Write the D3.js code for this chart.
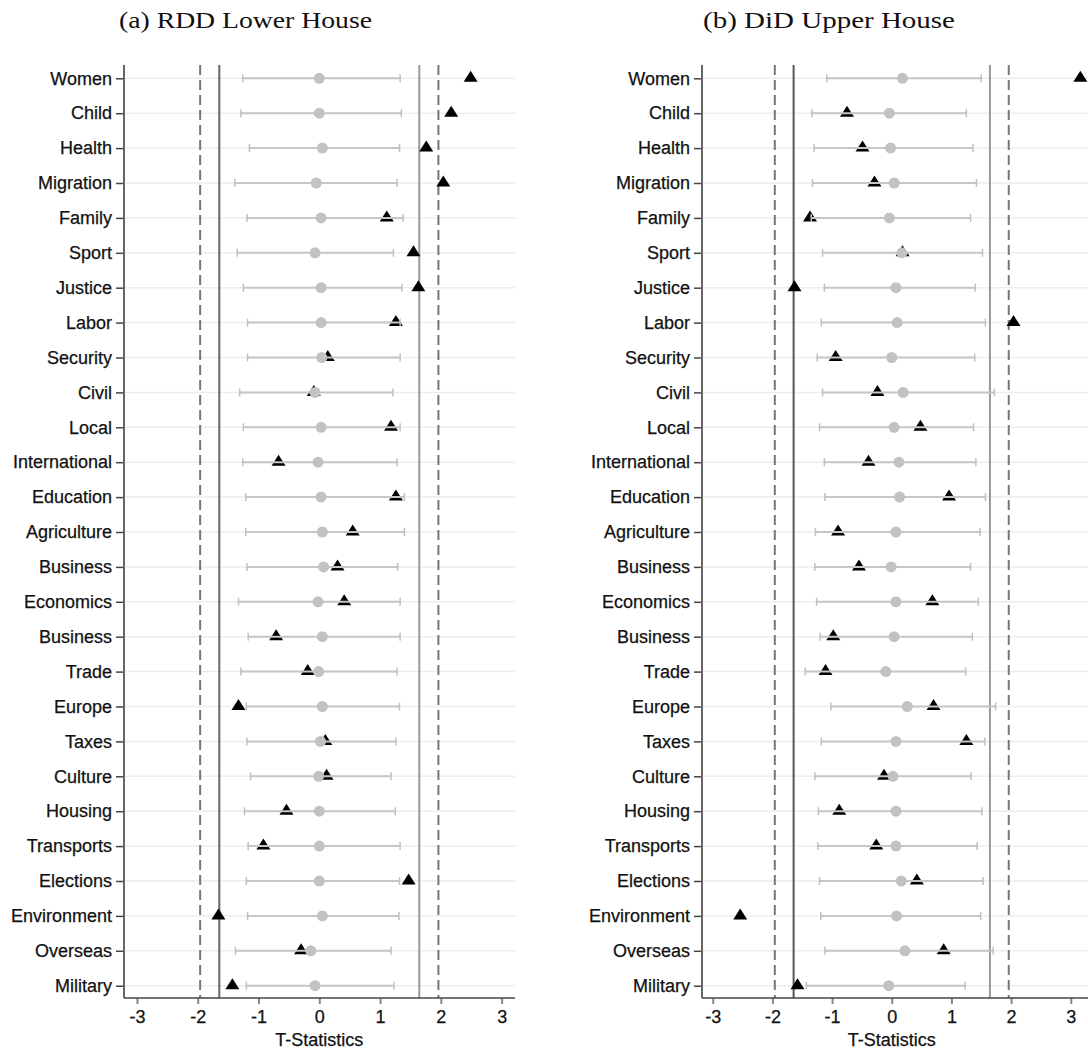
<!DOCTYPE html>
<html>
<head>
<meta charset="utf-8">
<script src="https://cdn.jsdelivr.net/npm/d3@7"></script>
<style>
  html, body { margin: 0; padding: 0; background: #fff; }
  svg { display: block; }
  text { font-family: "Liberation Sans", Arial, Helvetica, sans-serif; fill: #111; }
  .title { font-family: "Liberation Serif", "DejaVu Serif", serif; }
</style>
</head>
<body>
<svg id="chart" width="1088" height="1054"></svg>
<script>
// ---------- DATA ----------
const categories = ["Women","Child","Health","Migration","Family","Sport","Justice","Labor","Security","Civil","Local","International","Education","Agriculture","Business","Economics","Business","Trade","Europe","Taxes","Culture","Housing","Transports","Elections","Environment","Overseas","Military"];

const xTicks = [-3, -2, -1, 0, 1, 2, 3];
const refLinesDashed = [-1.96, 1.96];
const refLinesSolid = [-1.645, 1.645];

// (a) RDD Lower House
const rddCiLow   = [-1.26,-1.29,-1.15,-1.39,-1.19,-1.35,-1.25,-1.18,-1.18,-1.31,-1.25,-1.26,-1.21,-1.21,-1.19,-1.33,-1.17,-1.29,-1.20,-1.19,-1.13,-1.23,-1.17,-1.20,-1.18,-1.38,-1.20];
const rddCiHigh  = [1.33,1.35,1.32,1.28,1.38,1.22,1.36,1.33,1.33,1.21,1.33,1.28,1.40,1.40,1.29,1.33,1.33,1.28,1.32,1.26,1.18,1.25,1.33,1.32,1.31,1.18,1.23];
const rddPlacebo = [0.00,0.00,0.05,-0.05,0.03,-0.07,0.03,0.03,0.04,-0.07,0.03,-0.02,0.03,0.05,0.07,-0.02,0.05,-0.01,0.05,0.02,-0.01,0.00,0.00,0.00,0.05,-0.14,-0.07];
const rddEstimate= [2.49,2.17,1.76,2.04,1.11,1.55,1.63,1.26,0.14,-0.09,1.18,-0.67,1.26,0.55,0.30,0.41,-0.71,-0.19,-1.33,0.10,0.12,-0.54,-0.92,1.47,-1.66,-0.30,-1.43];

// (b) DiD Upper House
const didCiLow   = [-1.09,-1.34,-1.30,-1.33,-1.35,-1.16,-1.13,-1.18,-1.25,-1.16,-1.21,-1.13,-1.12,-1.28,-1.29,-1.26,-1.20,-1.45,-1.02,-1.18,-1.29,-1.23,-1.24,-1.21,-1.19,-1.12,-1.43];
const didCiHigh  = [1.50,1.25,1.36,1.42,1.32,1.52,1.40,1.57,1.39,1.72,1.37,1.41,1.57,1.48,1.32,1.45,1.35,1.24,1.74,1.56,1.33,1.51,1.43,1.53,1.49,1.70,1.23];
const didPlacebo = [0.18,-0.04,-0.02,0.04,-0.04,0.17,0.07,0.09,0.00,0.19,0.04,0.12,0.13,0.07,-0.01,0.07,0.04,-0.10,0.26,0.07,0.02,0.07,0.07,0.16,0.08,0.22,-0.05];
const didEstimate= [3.16,-0.75,-0.49,-0.29,-1.37,0.18,-1.63,2.04,-0.94,-0.24,0.48,-0.39,0.96,-0.90,-0.55,0.68,-0.98,-1.11,0.70,1.25,-0.13,-0.88,-0.26,0.42,-2.54,0.87,-1.58];

const panelTitles = ["(a) RDD Lower House", "(b) DiD Upper House"];
const xAxisTitle = "T-Statistics";

// ---------- LAYOUT ----------
const panels = [
  { title: panelTitles[0], titleX: 245.5, titleW: 253, left: 124, right: 515, domain: [-3.213, 3.22],
    lo: rddCiLow, hi: rddCiHigh, pl: rddPlacebo, est: rddEstimate, solidColors: ["#666", "#999"] },
  { title: panelTitles[1], titleX: 829, titleW: 252, left: 702, right: 1093, domain: [-3.18, 3.372],
    lo: didCiLow, hi: didCiHigh, pl: didPlacebo, est: didEstimate, solidColors: ["#555", "#999"] }
];
const plotTop = 65, plotBottom = 998;
const rowFirst = 78.3, rowLast = 985.7;

const svg = d3.select("#chart");

const y = d3.scalePoint()
  .domain(d3.range(categories.length))
  .range([rowFirst, rowLast]);

panels.forEach((p) => {
  const g = svg.append("g");
  const x = d3.scaleLinear().domain(p.domain).range([p.left, p.right]);

  // title
  g.append("text").attr("class", "title")
    .attr("x", p.titleX).attr("y", 28)
    .attr("text-anchor", "middle")
    .attr("font-size", 23)
    .attr("textLength", p.titleW).attr("lengthAdjust", "spacingAndGlyphs")
    .text(p.title);

  // gridlines
  g.append("g").selectAll("line").data(categories).join("line")
    .attr("x1", p.left).attr("x2", p.right)
    .attr("y1", (d, i) => y(i)).attr("y2", (d, i) => y(i))
    .attr("stroke", "#e6eff1").attr("stroke-width", 1.5);

  // reference lines
  g.append("g").selectAll("line").data(refLinesDashed).join("line")
    .attr("x1", d => x(d)).attr("x2", d => x(d))
    .attr("y1", plotTop).attr("y2", plotBottom)
    .attr("stroke", "#777").attr("stroke-width", 2)
    .attr("stroke-dasharray", "10,5");
  g.append("g").selectAll("line").data(refLinesSolid).join("line")
    .attr("x1", d => x(d)).attr("x2", d => x(d))
    .attr("y1", plotTop).attr("y2", plotBottom)
    .attr("stroke", (d, i) => p.solidColors[i]).attr("stroke-width", 2);

  // triangles (estimates), drawn first so CI lines and circles overlay
  const tri = "M0,-7.5L7,3.5L-7,3.5Z";
  g.append("g").selectAll("path").data(p.est).join("path")
    .attr("d", tri)
    .attr("transform", (d, i) => `translate(${x(d)},${y(i)})`)
    .attr("fill", "#000");

  // CI lines with caps
  const ci = g.append("g").selectAll("g").data(categories).join("g");
  ci.append("line")
    .attr("x1", (d, i) => x(p.lo[i])).attr("x2", (d, i) => x(p.hi[i]))
    .attr("y1", (d, i) => y(i)).attr("y2", (d, i) => y(i))
    .attr("stroke", "#c6c6c6").attr("stroke-width", 2);
  ci.append("line")
    .attr("x1", (d, i) => x(p.lo[i])).attr("x2", (d, i) => x(p.lo[i]))
    .attr("y1", (d, i) => y(i) - 4).attr("y2", (d, i) => y(i) + 4)
    .attr("stroke", "#c0c0c0").attr("stroke-width", 1.5);
  ci.append("line")
    .attr("x1", (d, i) => x(p.hi[i])).attr("x2", (d, i) => x(p.hi[i]))
    .attr("y1", (d, i) => y(i) - 4).attr("y2", (d, i) => y(i) + 4)
    .attr("stroke", "#c0c0c0").attr("stroke-width", 1.5);

  // placebo circles
  g.append("g").selectAll("circle").data(p.pl).join("circle")
    .attr("cx", d => x(d)).attr("cy", (d, i) => y(i))
    .attr("r", 5.5).attr("fill", "#c2c2c2");

  // y axis
  const yAxis = d3.axisLeft(y).tickSize(8).tickPadding(4).tickFormat(i => categories[i]);
  const ya = g.append("g").attr("transform", `translate(${p.left},0)`).call(yAxis);
  ya.select(".domain").remove();
  ya.selectAll(".tick line").attr("stroke", "#444").attr("stroke-width", 1.5);
  ya.selectAll(".tick text").attr("font-size", 18).attr("fill", "#111")
    .attr("stroke", "#111").attr("stroke-width", 0.25);
  g.append("line")
    .attr("x1", p.left).attr("x2", p.left)
    .attr("y1", plotTop).attr("y2", plotBottom)
    .attr("stroke", "#666").attr("stroke-width", 2);

  // x axis
  const xAxis = d3.axisBottom(x).tickValues(xTicks).tickSize(6).tickPadding(6).tickFormat(d => String(d));
  const xa = g.append("g").attr("transform", `translate(0,${plotBottom})`).call(xAxis);
  xa.select(".domain").remove();
  xa.selectAll(".tick line").attr("stroke", "#888").attr("stroke-width", 2);
  xa.selectAll(".tick text").attr("font-size", 18).attr("fill", "#111")
    .attr("stroke", "#111").attr("stroke-width", 0.25);
  g.append("line")
    .attr("x1", p.left).attr("x2", p.right)
    .attr("y1", plotBottom).attr("y2", plotBottom)
    .attr("stroke", "#444").attr("stroke-width", 1.5);

  g.append("text")
    .attr("x", x(0)).attr("y", 1046)
    .attr("text-anchor", "middle").attr("font-size", 18)
    .attr("stroke", "#111").attr("stroke-width", 0.25)
    .text(xAxisTitle);
});
</script>
</body>
</html>
